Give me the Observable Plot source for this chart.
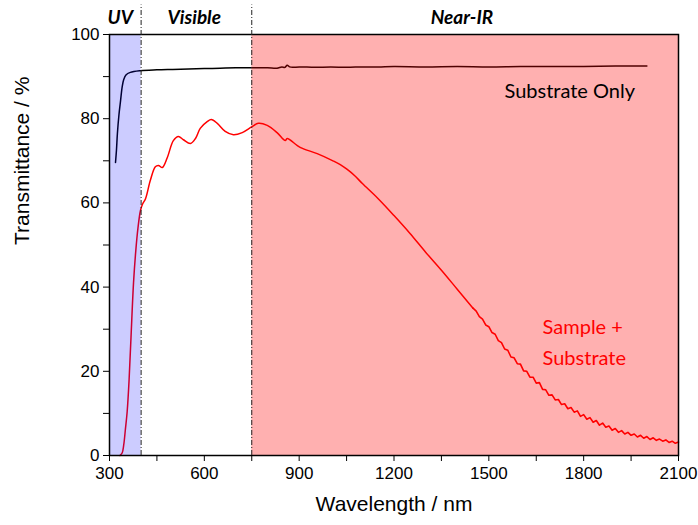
<!DOCTYPE html>
<html>
<head>
<meta charset="utf-8">
<script src="https://cdn.jsdelivr.net/npm/d3@7"></script>
<script src="https://cdn.jsdelivr.net/npm/@observablehq/plot@0.6"></script>
<style>
  html, body { margin: 0; padding: 0; background: white; }
</style>
</head>
<body>
<div id="chart"></div>
<script>
// Regions (nm)
const regionNames = ["UV", "Visible", "Near-IR"];
const regionStart = [300, 400, 750];
const regionEnd = [400, 750, 2100];
const regionLabelX = [334, 568, 1415];

// Substrate only
const subWl = [319, 322, 325, 330, 335, 340, 345, 352, 366, 398, 450, 500, 550, 600, 650, 700, 750, 800, 830, 845, 855, 862, 870, 880, 900, 950, 1000, 1050, 1100, 1150, 1200, 1300, 1400, 1500, 1600, 1700, 1800, 1900, 2000];
const subT  = [69.6, 72.5, 76.5, 81.0, 84.3, 87.5, 89.3, 90.4, 91.0, 91.4, 91.6, 91.7, 91.8, 91.9, 92.0, 92.1, 92.1, 92.1, 92.0, 92.3, 92.2, 92.7, 92.3, 92.2, 92.3, 92.2, 92.3, 92.2, 92.3, 92.3, 92.4, 92.3, 92.4, 92.3, 92.4, 92.4, 92.4, 92.5, 92.5];

// Sample + substrate (smooth part)
const smpWl = [333, 340, 345, 350, 356, 362, 368, 376, 383, 390, 398, 405, 414, 429, 445, 455, 467, 483, 502, 518, 534, 556, 572, 587, 609, 622, 641, 666, 692, 720, 751, 771, 799, 830, 856, 862, 903, 957, 1007, 1030, 1051, 1075, 1100, 1150, 1200, 1250, 1300, 1350, 1400, 1450];
const smpT  = [0, 0.6, 2.5, 6, 10.5, 18, 28, 41, 48.5, 54, 58.2, 59.8, 61, 65.3, 68.6, 68.9, 68.4, 70.8, 74.8, 75.8, 75.0, 74.1, 75.3, 77.7, 79.3, 79.8, 78.9, 77.0, 76.2, 76.7, 78.1, 78.9, 78.4, 76.7, 74.8, 75.3, 73.2, 71.7, 70.0, 69.1, 68.0, 66.5, 64.6, 61.0, 57.0, 52.8, 48.3, 44.0, 39.5, 35.0];

// Sample + substrate (noisy long-wavelength part)
const noisyWl = [1450, 1460, 1470, 1480, 1490, 1500, 1510, 1520, 1530, 1540, 1550, 1560, 1570, 1580, 1590, 1600, 1610, 1620, 1630, 1640, 1650, 1660, 1670, 1680, 1690, 1700, 1710, 1720, 1730, 1740, 1750, 1760, 1770, 1780, 1790, 1800, 1810, 1820, 1830, 1840, 1850, 1860, 1870, 1880, 1890, 1900, 1910, 1920, 1930, 1940, 1950, 1960, 1970, 1980, 1990, 2000, 2010, 2020, 2030, 2040, 2050, 2060, 2070, 2080, 2090, 2100];
const noisyT  = [35.0, 34.3, 33.0, 32.4, 31.0, 30.6, 29.2, 28.8, 27.3, 26.8, 25.3, 25.0, 23.4, 23.2, 21.8, 21.7, 20.1, 20.0, 18.6, 18.6, 17.2, 17.3, 15.7, 15.6, 14.3, 14.4, 13.2, 13.3, 12.1, 12.3, 11.1, 11.4, 10.3, 10.6, 9.3, 9.7, 8.6, 9.0, 7.9, 8.3, 7.2, 7.7, 6.7, 7.0, 6.0, 6.4, 5.5, 5.9, 5.1, 5.5, 4.8, 5.1, 4.4, 4.8, 4.1, 4.5, 3.8, 4.2, 3.6, 3.9, 3.4, 3.7, 3.1, 3.4, 2.9, 3.2];

const xTicks = [300, 450, 600, 750, 900, 1050, 1200, 1350, 1500, 1650, 1800, 1950, 2100];
const yTicks = [0, 10, 20, 30, 40, 50, 60, 70, 80, 90, 100];

const substrate = subWl.map((w, i) => ({w, t: subT[i]}));
const sample = smpWl.map((w, i) => ({w, t: smpT[i]}));
const sampleNoisy = noisyWl.map((w, i) => ({w, t: noisyT[i]}));
const regions = regionNames.map((n, i) => ({n, x1: regionStart[i], x2: regionEnd[i], lx: regionLabelX[i]}));

const SANS = "'Liberation Sans', Arial, sans-serif";
const LABEL = "Lato, sans-serif";

const chart = Plot.plot({
  width: 698,
  height: 525,
  marginLeft: 109,
  marginRight: 20,
  marginTop: 34,
  marginBottom: 70,
  x: {domain: [300, 2100]},
  y: {domain: [0, 100]},
  style: {fontFamily: SANS, fontSize: "17px", color: "black", background: "white"},
  marks: [
    Plot.line(substrate, {x: "w", y: "t", stroke: "black", strokeWidth: 1.5, curve: "catmull-rom"}),
    Plot.line(sample, {x: "w", y: "t", stroke: "#ff0000", strokeWidth: 1.5, curve: "catmull-rom"}),
    Plot.line(sampleNoisy, {x: "w", y: "t", stroke: "#ff0000", strokeWidth: 1.6}),
    Plot.rect([regions[0]], {x1: "x1", x2: "x2", y1: 0, y2: 100, fill: "#0000ff", fillOpacity: 0.2}),
    Plot.rect([regions[2]], {x1: "x1", x2: "x2", y1: 0, y2: 100, fill: "#ff0000", fillOpacity: 0.31}),
    Plot.frame({stroke: "black", strokeWidth: 1.5}),
    Plot.ruleX([regionStart[1], regionStart[2]], {y1: 0, y2: 107, stroke: "#222", strokeWidth: 1, strokeDasharray: "5,2,1,2"}),
    Plot.text(regions, {x: "lx", y: 104, text: "n", fontFamily: LABEL, fontWeight: "bold", fontStyle: "italic", fontSize: 19, fill: "black"}),
    Plot.text(["Substrate Only"], {x: 1756, y: 86.5, fontFamily: LABEL, fontSize: 20, fill: "black"}),
    Plot.text(["Sample +", "Substrate"], {x: 1670, y: (d, i) => [30.4, 23.0][i], textAnchor: "start", fontFamily: LABEL, fontSize: 20, fill: "#ff0000"}),
    Plot.axisX({ticks: xTicks, tickSize: 6, tickPadding: 5, tickFormat: d => d % 300 === 0 ? String(d) : "", label: null, fontSize: 17, fontFamily: SANS}),
    Plot.axisY({ticks: yTicks, tickSize: 6, tickPadding: 4, tickFormat: d => d % 20 === 0 ? String(d) : "", label: null, fontSize: 17, fontFamily: SANS}),
    Plot.text(["Wavelength / nm"], {frameAnchor: "bottom", dy: 55, fontSize: 21, fontFamily: SANS, fill: "black"}),
    Plot.text(["Transmittance / %"], {frameAnchor: "left", rotate: -90, dx: -87, fontSize: 21, fontFamily: SANS, fill: "black"})
  ]
});
document.getElementById("chart").appendChild(chart);
</script>
</body>
</html>
